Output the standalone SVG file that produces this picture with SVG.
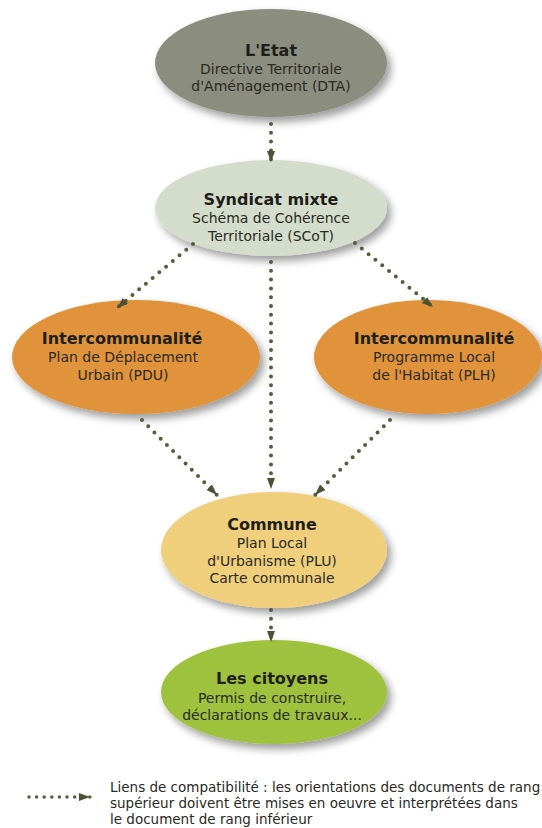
<svg xmlns="http://www.w3.org/2000/svg" width="542" height="828" viewBox="0 0 542 828">
<style>
text{font-family:"DejaVu Sans",Verdana,sans-serif;text-anchor:middle;fill:#2a2a22}
.t{font-weight:bold;font-size:16px;fill:#1e1e1a}
.s{font-size:14px}
.lk{fill:none;stroke:#585c3c;stroke-width:4;stroke-linecap:round;stroke-dasharray:0 8.8}
.lg{font-size:13.5px;text-anchor:start}
</style>
<defs>
<filter id="sh" x="-20%" y="-20%" width="150%" height="150%">
<feGaussianBlur in="SourceAlpha" stdDeviation="4"/>
<feOffset dx="4" dy="5" result="b"/>
<feComponentTransfer><feFuncA type="linear" slope="0.4"/></feComponentTransfer>
<feMerge><feMergeNode/><feMergeNode in="SourceGraphic"/></feMerge>
</filter>
<marker id="ah" viewBox="0 0 11 8" refX="11" refY="4" markerWidth="11" markerHeight="8" orient="auto" markerUnits="userSpaceOnUse">
<path d="M0,0L11,4L0,8z" fill="#4e5234"/>
</marker>
</defs>
<rect width="542" height="828" fill="#fff"/>
<g id="etat">
<ellipse cx="271" cy="63" rx="116" ry="54" fill="#8b8d7f" filter="url(#sh)"/>
<text x="271" y="56" class="t">L'Etat</text>
<text x="271" y="74" class="s">Directive Territoriale</text>
<text x="271" y="91" class="s">d'Aménagement (DTA)</text>
</g>
<g id="syndicat">
<ellipse cx="271" cy="208" rx="116" ry="48" fill="#d4ddcc" filter="url(#sh)"/>
<text x="271" y="205" class="t">Syndicat mixte</text>
<text x="271" y="223" class="s">Schéma de Cohérence</text>
<text x="271" y="241" class="s">Territoriale (SCoT)</text>
</g>
<g id="pdu">
<ellipse cx="136" cy="357" rx="124" ry="57" fill="#e0933a" filter="url(#sh)"/>
<text x="122" y="344" class="t">Intercommunalité</text>
<text x="123" y="362" class="s">Plan de Déplacement</text>
<text x="123" y="380" class="s">Urbain (PDU)</text>
</g>
<g id="plh">
<ellipse cx="428" cy="357" rx="114" ry="57" fill="#e0933a" filter="url(#sh)"/>
<text x="434" y="344" class="t">Intercommunalité</text>
<text x="434" y="362" class="s">Programme Local</text>
<text x="434" y="380" class="s">de l'Habitat (PLH)</text>
</g>
<g id="commune">
<ellipse cx="274" cy="550" rx="113" ry="58" fill="#f0cf7c" filter="url(#sh)"/>
<text x="272" y="530" class="t">Commune</text>
<text x="272" y="548" class="s">Plan Local</text>
<text x="272" y="566" class="s">d'Urbanisme (PLU)</text>
<text x="272" y="583" class="s">Carte communale</text>
</g>
<g id="citoyens">
<ellipse cx="274" cy="692" rx="113" ry="52" fill="#9ec23e" filter="url(#sh)"/>
<text x="272" y="684" class="t">Les citoyens</text>
<text x="272" y="703" class="s">Permis de construire,</text>
<text x="272" y="720" class="s">déclarations de travaux...</text>
</g>
<g id="connectors">
<path class="lk" d="M271,124L271,162" marker-end="url(#ah)"/>
<path class="lk" d="M193,244L117,308" marker-end="url(#ah)"/>
<path class="lk" d="M355,243L433,307" marker-end="url(#ah)"/>
<path class="lk" d="M271,262L271,489" marker-end="url(#ah)"/>
<path class="lk" d="M142,420L217,495" marker-end="url(#ah)"/>
<path class="lk" d="M390,420L315,495" marker-end="url(#ah)"/>
<path class="lk" d="M271,610L271,642" marker-end="url(#ah)"/>
</g>
<g id="legend">
<path class="lk" d="M29,797L90,797" style="stroke-width:3.5;stroke-dasharray:0 7.6" marker-end="url(#ah)"/>
<text x="110" y="792" class="lg">Liens de compatibilité : les orientations des documents de rang</text>
<text x="110" y="808" class="lg">supérieur doivent être mises en oeuvre et interprétées dans</text>
<text x="110" y="824" class="lg">le document de rang inférieur</text>
</g>
</svg>
